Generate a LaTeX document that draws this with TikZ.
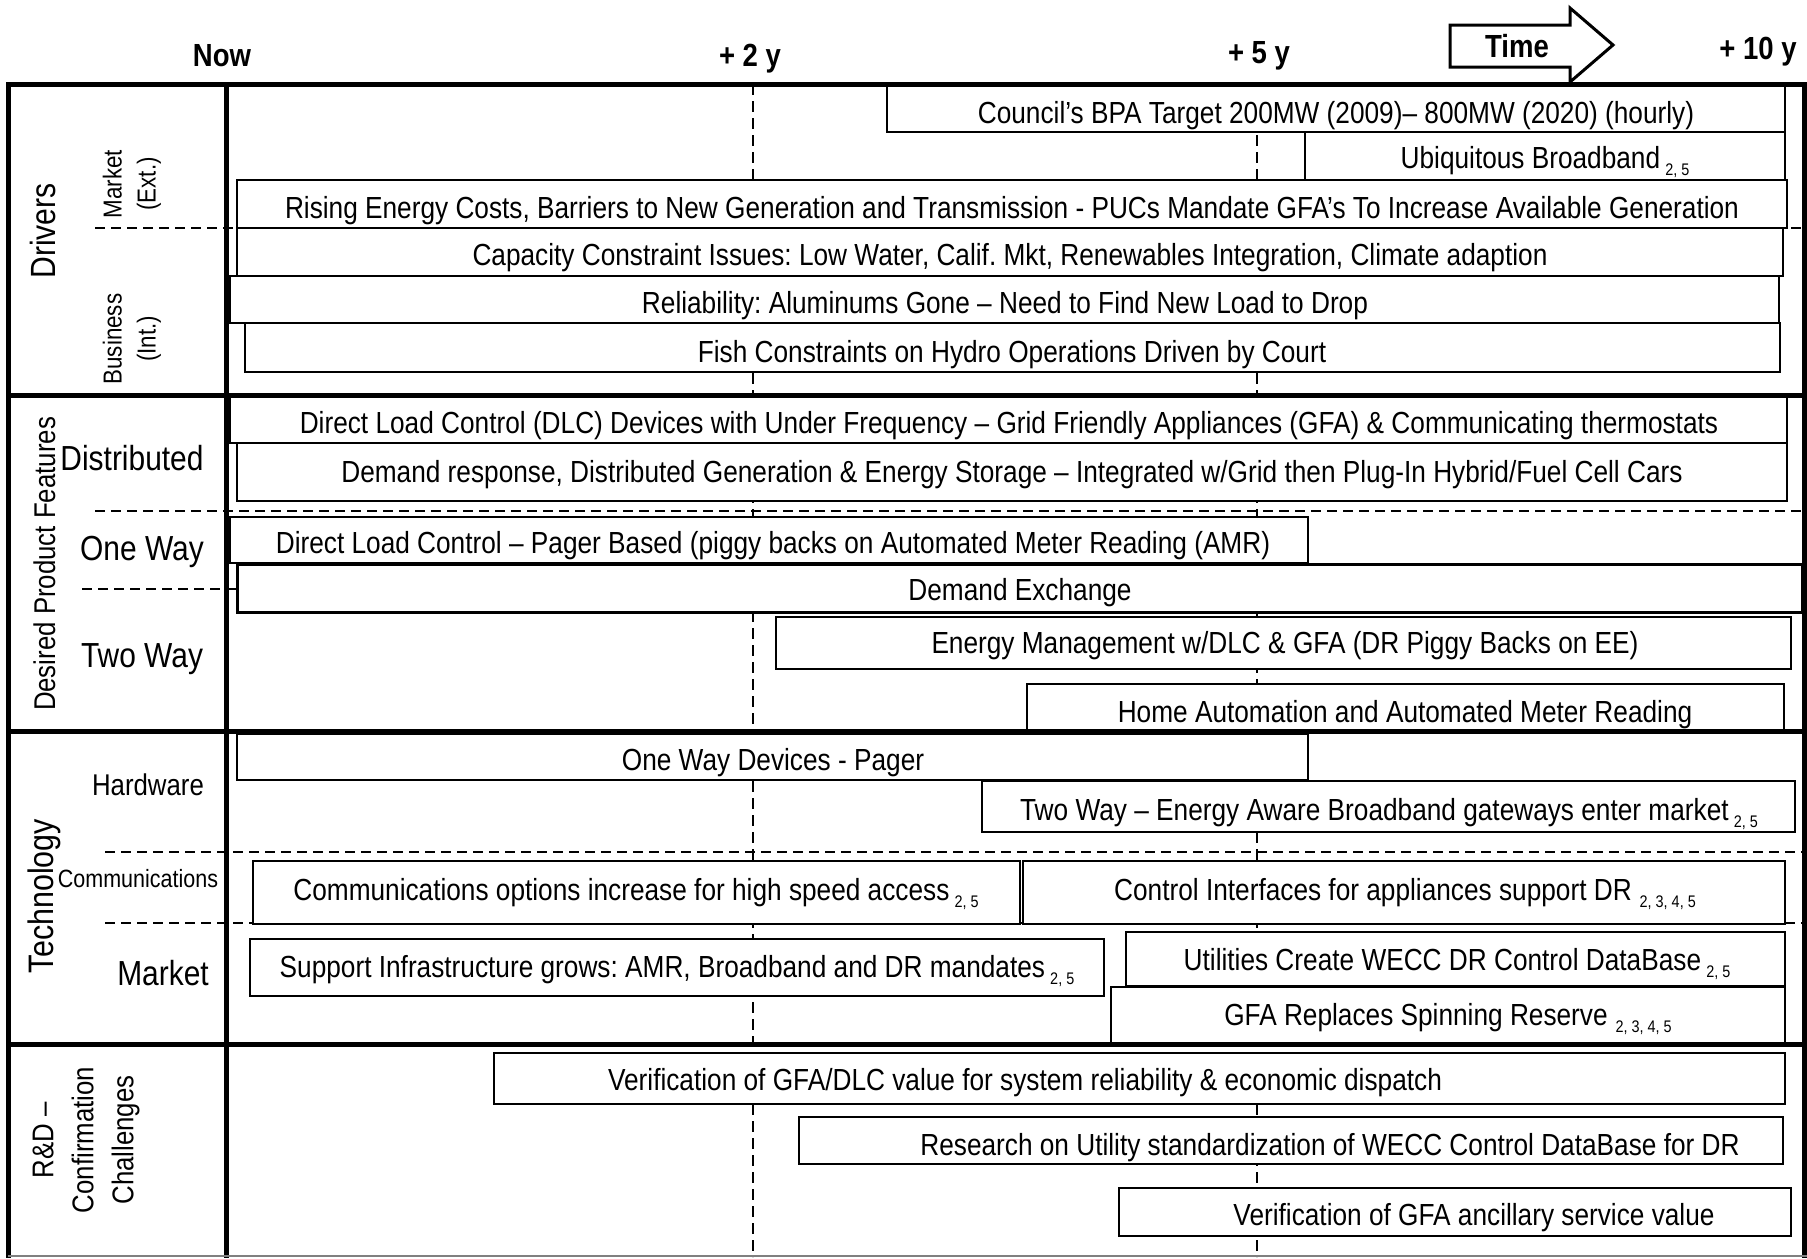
\documentclass[tikz,border=0pt]{standalone}
\usepackage{fontspec}
\setmainfont[FakeStretch=0.86]{Liberation Sans}
\usepackage{graphicx}
\usetikzlibrary{fit}
\frenchspacing

% small reference numbers after a bar text
\newcommand{\refnum}[1]{\,\raisebox{-0.25em}{\scalebox{0.55}{#1}}}

\begin{document}
\begin{tikzpicture}[
  x=0.5pt, y=-0.5pt,
  bar/.style={draw, fill=white, line width=0.65pt, inner sep=0pt},
  heavybar/.style={bar, line width=1.5pt},
  bartext/.style={anchor=base, inner sep=0pt, font=\fontsize{15.25pt}{18pt}\selectfont},
  yearlabel/.style={anchor=base, inner sep=0pt, font=\fontsize{16pt}{18pt}\selectfont\bfseries},
  rowlabel/.style={anchor=base, inner sep=0pt, font=\fontsize{17.4pt}{20pt}\selectfont},
  sidelabel/.style={rotate=90, inner sep=0pt, align=center},
  frame/.style={line width=2.5pt},
  rowsep/.style={line width=1.25pt, dash pattern=on 5pt off 3pt},
  timeline/.style={line width=1.25pt, dash pattern=on 5.5pt off 3pt},
]
  \useasboundingbox (0,0) rectangle (1807,1258);

  % Time marks
  \node[yearlabel] (now)  at (222,66)  {Now};
  \node[yearlabel] (y2)   at (750,66)  {+ 2 y};
  \node[yearlabel] (y5)   at (1259,63) {+ 5 y};
  \node[yearlabel] (y10)  at (1758,59) {+ 10 y};
  \draw[line width=1.5pt, fill=white] (1450,25) -- (1570,25) -- (1570,8) -- (1613,45)
    -- (1570,82) -- (1570,67) -- (1450,67) -- cycle;
  \node[yearlabel] (time) at (1517,57) {Time};

  % Dashed time lines
  \draw[timeline] (753,84) -- (753,1257);
  \draw[timeline] (1257,84) -- (1257,1257);

  % Dashed row separators
  \draw[rowsep] (95,228) -- (1807,228);
  \draw[rowsep] (95,511) -- (1807,511);
  \draw[rowsep] (82,589) -- (1807,589);
  \draw[rowsep] (105,852) -- (1807,852);
  \draw[rowsep] (105,923) -- (1807,923);

  % Drivers
  \node[bar, fit={(887,84) (1785,132)}] (council) {};
  \node[bartext] (council-t) at (1336,123) {Council’s BPA Target 200MW (2009)– 800MW (2020) (hourly)};
  \node[bar, fit={(1305,132) (1785,180)}] (broadband) {};
  \node[bartext] (broadband-t) at (1545,168) {Ubiquitous Broadband\refnum{2, 5}};
  \node[bar, fit={(237,180) (1787,228)}] (rising) {};
  \node[bartext] (rising-t) at (1012,218) {Rising Energy Costs, Barriers to New Generation and Transmission - PUCs Mandate GFA’s To Increase Available Generation};
  \node[bar, fit={(237,228) (1783,276)}] (capacity) {};
  \node[bartext] (capacity-t) at (1010,265) {Capacity Constraint Issues: Low Water, Calif. Mkt, Renewables Integration, Climate adaption};
  \node[bar, fit={(230,276) (1779,323)}] (reliability) {};
  \node[bartext] (reliability-t) at (1005,313) {Reliability: Aluminums Gone – Need to Find New Load to Drop};
  \node[bar, fit={(245,323) (1780,372)}] (fish) {};
  \node[bartext] (fish-t) at (1012,362) {Fish Constraints on Hydro Operations Driven by Court};

  % Desired product features
  \node[bar, fit={(230,397) (1787,443)}] (dlc) {};
  \node[bartext] (dlc-t) at (1009,433) {Direct Load Control (DLC) Devices with Under Frequency – Grid Friendly Appliances (GFA) \& Communicating thermostats};
  \node[bar, fit={(237,443) (1787,501)}] (response) {};
  \node[bartext] (response-t) at (1012,482) {Demand response, Distributed Generation \& Energy Storage – Integrated w/Grid then Plug-In Hybrid/Fuel Cell Cars};
  \node[bar, fit={(230,517) (1308,563)}] (pager) {};
  \node[bartext] (pager-t) at (773,553) {Direct Load Control – Pager Based (piggy backs on Automated Meter Reading (AMR)};
  \node[heavybar, fit={(237,564) (1802,612)}] (exchange) {};
  \node[bartext] (exchange-t) at (1020,600) {Demand Exchange};
  \node[bar, fit={(776,617) (1791,669)}] (energy) {};
  \node[bartext] (energy-t) at (1285,653) {Energy Management w/DLC \& GFA (DR Piggy Backs on EE)};
  \node[bar, fit={(1027,684) (1784,732)}] (home) {};
  \node[bartext] (home-t) at (1405,722) {Home Automation and Automated Meter Reading};

  % Technology
  \node[bar, fit={(237,734) (1308,780)}] (oneway) {};
  \node[bartext] (oneway-t) at (773,770) {One Way Devices - Pager};
  \node[bar, fit={(982,781) (1795,832)}] (twoway) {};
  \node[bartext] (twoway-t) at (1389,820) {Two Way – Energy Aware Broadband gateways enter market\refnum{2, 5}};
  \node[bar, fit={(253,861) (1020,924)}] (comms) {};
  \node[bartext] (comms-t) at (636,900) {Communications options increase for high speed access\refnum{2, 5}};
  \node[bar, fit={(1023,861) (1785,924)}] (control) {};
  \node[bartext] (control-t) at (1405,900) {Control Interfaces for appliances support DR\refnum{\,2, 3, 4, 5}};
  \node[bar, fit={(250,939) (1104,996)}] (support) {};
  \node[bartext] (support-t) at (677,977) {Support Infrastructure grows: AMR, Broadband and DR mandates\refnum{2, 5}};
  \node[bar, fit={(1126,932) (1785,986)}] (utilities) {};
  \node[bartext] (utilities-t) at (1457,970) {Utilities Create WECC DR Control DataBase\refnum{2, 5}};
  \node[bar, fit={(1111,987) (1785,1043)}] (spinning) {};
  \node[bartext] (spinning-t) at (1448,1025) {GFA Replaces Spinning Reserve\refnum{\,2, 3, 4, 5}};

  % R&D
  \node[bar, fit={(494,1053) (1785,1104)}] (verify) {};
  \node[bartext] (verify-t) at (1025,1090) {Verification of GFA/DLC value for system reliability \& economic dispatch};
  \node[bar, fit={(799,1117) (1783,1164)}] (research) {};
  \node[bartext] (research-t) at (1330,1155) {Research on Utility standardization of WECC Control DataBase for DR};
  \node[bar, fit={(1119,1188) (1791,1236)}] (ancillary) {};
  \node[bartext] (ancillary-t) at (1474,1225) {Verification of GFA ancillary service value};

  % Frame
  \draw[frame] (6,84) -- (1807,84);
  \draw[frame] (8,84) -- (8,1258);
  \draw[frame] (226,84) -- (226,1258);
  \draw[frame] (1804,84) -- (1804,1258);
  \draw[frame] (8,395) -- (1807,395);
  \draw[frame] (8,731) -- (1807,731);
  \draw[frame] (8,1044) -- (1807,1044);
  \draw[gray, line width=0.6pt] (8,1256) -- (1807,1256);

  % Side labels
  \node[sidelabel, anchor=base, font=\fontsize{17.5pt}{20pt}\selectfont] (drivers) at (55,231) {Drivers};
  \node[sidelabel, font=\fontsize{13pt}{17pt}\selectfont] (ext) at (132,184) {Market\\(Ext.)};
  \node[sidelabel, font=\fontsize{13pt}{17pt}\selectfont] (int) at (132,339) {Business\\(Int.)};
  \node[sidelabel, anchor=base, font=\fontsize{15pt}{18pt}\selectfont] (features) at (55,564) {Desired Product Features};
  \node[sidelabel, anchor=base, font=\fontsize{17.7pt}{20pt}\selectfont] (technology) at (53,896) {Technology};
  \node[sidelabel, font=\fontsize{15pt}{20pt}\selectfont] (rnd) at (86,1140) {R\&D –\\Confirmation\\Challenges};

  % Row labels
  \node[rowlabel] (distributed) at (132,470) {Distributed};
  \node[rowlabel] (onewaylbl) at (142,560) {One Way};
  \node[rowlabel] (twowaylbl) at (142,667) {Two Way};
  \node[rowlabel, font=\fontsize{15pt}{18pt}\selectfont] (hardware) at (148,795) {Hardware};
  \node[rowlabel, font=\fontsize{12.5pt}{15pt}\selectfont] (commslbl) at (138,887) {Communications};
  \node[rowlabel] (marketlbl) at (163,985) {Market};
\end{tikzpicture}
\end{document}
